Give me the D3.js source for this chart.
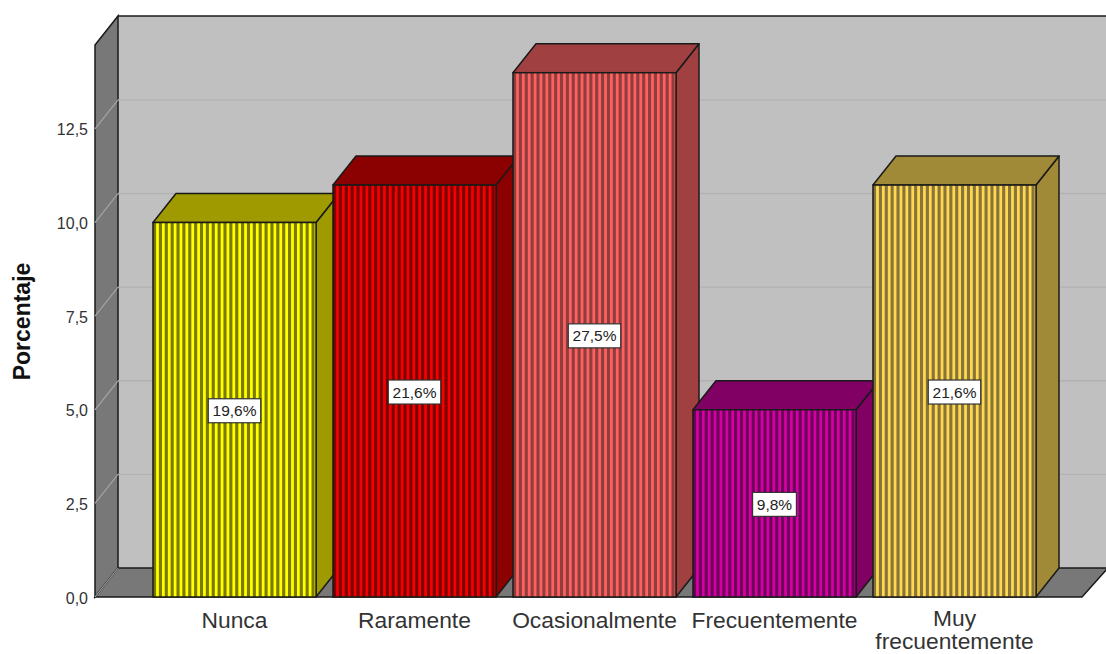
<!DOCTYPE html>
<html>
<head>
<meta charset="utf-8">
<script src="https://cdnjs.cloudflare.com/ajax/libs/d3/7.8.5/d3.min.js"></script>
<style>
html,body{margin:0;padding:0;background:#fff;}
svg{display:block;font-family:"Liberation Sans",Arial,sans-serif;}
</style>
</head>
<body>
<svg id="chart" width="1106" height="654"></svg>
<script>
// Survey answers: respondent counts per frequency category and their share labels
const categories = ["Nunca", "Raramente", "Ocasionalmente", "Frecuentemente", "Muy frecuentemente"];
const values = [10, 11, 14, 5, 11];
const shareLabels = ["19,6%", "21,6%", "27,5%", "9,8%", "21,6%"];
const yTicks = [0, 2.5, 5, 7.5, 10, 12.5];
const lightColors = ["#ffff00", "#f40000", "#ff6060", "#d400a4", "#ffd850"];
const darkColors = ["#7a7a00", "#7a0000", "#8f3e3e", "#6c0058", "#86743a"];
const capColors = ["#9e9a00", "#8b0000", "#a04040", "#800064", "#a08a38"];

const svg = d3.select("#chart");
const depthX = 23, depthY = 29;
const plotLeft = 95, plotRight = 1082, floorY = 597;
const stripePeriod = 5.87, stripeWidth = 3.1;

const y = d3.scaleLinear().domain([0, 14.74]).range([floorY, 45]);
const x = d3.scaleBand().domain(categories).range([153, 1036]).paddingInner(0.0944).paddingOuter(0);

const pts = a => a.map(p => p.join(",")).join(" ");
const stroke = "#1a1a1a";

// Back wall, side wall and floor of the box
const wallTop = y.range()[1];
svg.append("polygon").attr("fill", "#c0c0c0")
  .attr("points", pts([[plotLeft + depthX, wallTop - depthY], [1106, wallTop - depthY], [1106, floorY - depthY], [plotLeft + depthX, floorY - depthY]]));
svg.append("polygon").attr("fill", "#787878").attr("stroke", stroke).attr("stroke-width", 1.5)
  .attr("points", pts([[plotLeft, wallTop], [plotLeft + depthX, wallTop - depthY], [plotLeft + depthX, floorY - depthY], [plotLeft, floorY]]));
svg.append("polygon").attr("fill", "#787878").attr("stroke", stroke).attr("stroke-width", 1.5)
  .attr("points", pts([[plotLeft, floorY], [plotLeft + depthX, floorY - depthY], [1108, floorY - depthY], [plotRight, floorY]]));

// Gridlines run along the side wall and across the back wall
const grid = svg.append("g");
yTicks.filter(t => t > 0).forEach(t => {
  grid.append("line").attr("x1", plotLeft).attr("y1", y(t)).attr("x2", plotLeft + depthX).attr("y2", y(t) - depthY)
    .attr("stroke", "#a4a4a4").attr("stroke-width", 1.2);
  grid.append("line").attr("x1", plotLeft + depthX).attr("y1", y(t) - depthY).attr("x2", 1106).attr("y2", y(t) - depthY)
    .attr("stroke", "#b2b2b2").attr("stroke-width", 1.4);
});
svg.append("line").attr("x1", plotLeft + depthX).attr("y1", wallTop - depthY).attr("x2", 1106).attr("y2", wallTop - depthY)
  .attr("stroke", stroke).attr("stroke-width", 1.5);
svg.append("line").attr("x1", plotLeft).attr("y1", floorY).attr("x2", plotLeft + depthX).attr("y2", floorY - depthY)
  .attr("stroke", "#a4a4a4").attr("stroke-width", 1.2);

// Bars: side, cap and striped front
const bars = svg.selectAll("g.bar").data(categories).join("g").attr("class", "bar");
bars.each(function (c, i) {
  const g = d3.select(this);
  const x0 = x(c), bw = x.bandwidth(), x1 = x0 + bw, yt = y(values[i]);
  g.append("polygon").attr("fill", capColors[i]).attr("stroke", stroke).attr("stroke-width", 1.5)
    .attr("stroke-linejoin", "round")
    .attr("points", pts([[x1, yt], [x1 + depthX, yt - depthY], [x1 + depthX, floorY - depthY], [x1, floorY]]));
  g.append("polygon").attr("fill", capColors[i]).attr("stroke", stroke).attr("stroke-width", 1.5)
    .attr("stroke-linejoin", "round")
    .attr("points", pts([[x0, yt], [x0 + depthX, yt - depthY], [x1 + depthX, yt - depthY], [x1, yt]]));
  g.append("rect").attr("x", x0).attr("y", yt).attr("width", bw).attr("height", floorY - yt)
    .attr("fill", lightColors[i]);
  // Dark vertical hatching on the front face
  g.selectAll("rect.hatch").data(d3.range(0, bw, stripePeriod)).join("rect").attr("class", "hatch")
    .attr("x", d => x0 + d).attr("y", yt)
    .attr("width", d => Math.min(stripeWidth, bw - d)).attr("height", floorY - yt)
    .attr("fill", darkColors[i]);
  g.append("rect").attr("x", x0).attr("y", yt).attr("width", bw).attr("height", floorY - yt)
    .attr("fill", "none").attr("stroke", stroke).attr("stroke-width", 1.5);
});

// Value boxes centred on each bar front, sized to their text
bars.each(function (c, i) {
  const g = d3.select(this);
  const cx = x(c) + x.bandwidth() / 2, cy = (y(values[i]) + floorY) / 2 + 1;
  const box = g.append("rect").attr("fill", "#fff").attr("stroke", "#333").attr("stroke-width", 1.2);
  const label = g.append("text").attr("x", cx).attr("y", cy + 5.5).attr("text-anchor", "middle")
    .attr("font-size", 15.5).attr("fill", "#222").text(shareLabels[i]);
  const w = label.node().getComputedTextLength() + 8.5, h = 24;
  box.attr("x", cx - w / 2).attr("y", cy - h / 2).attr("width", w).attr("height", h);
});

// Axes
const fmt = d => d3.format(".1f")(d).replace(".", ",");
const yAxis = svg.append("g").attr("transform", `translate(${plotLeft},0)`)
  .call(d3.axisLeft(y).tickValues(yTicks).tickFormat(fmt).tickSize(0).tickPadding(7));
yAxis.select(".domain").remove();
yAxis.selectAll("text").attr("font-size", 16).attr("font-family", "Liberation Sans").attr("fill", "#333").attr("dy", "0.38em");

const xAxis = svg.append("g").attr("transform", `translate(0,${floorY})`)
  .call(d3.axisBottom(x).tickSize(0).tickFormat(""));
xAxis.select(".domain").remove();
xAxis.selectAll(".tick text").each(function (c) {
  const words = c.split(" ");
  const t = d3.select(this).attr("font-size", 22.8).attr("font-family", "Liberation Sans")
    .attr("fill", "#333").attr("y", 0).attr("dy", null);
  const firstLine = words.length > 1 ? 29 : 31;
  words.forEach((w, k) => t.append("tspan").attr("x", 0).attr("y", firstLine + k * 23).text(w));
});

svg.append("text").attr("transform", "translate(29.5,321.5) rotate(-90)")
  .attr("text-anchor", "middle").attr("font-size", 23).attr("font-weight", "bold").attr("fill", "#111")
  .text("Porcentaje");
</script>
</body>
</html>
